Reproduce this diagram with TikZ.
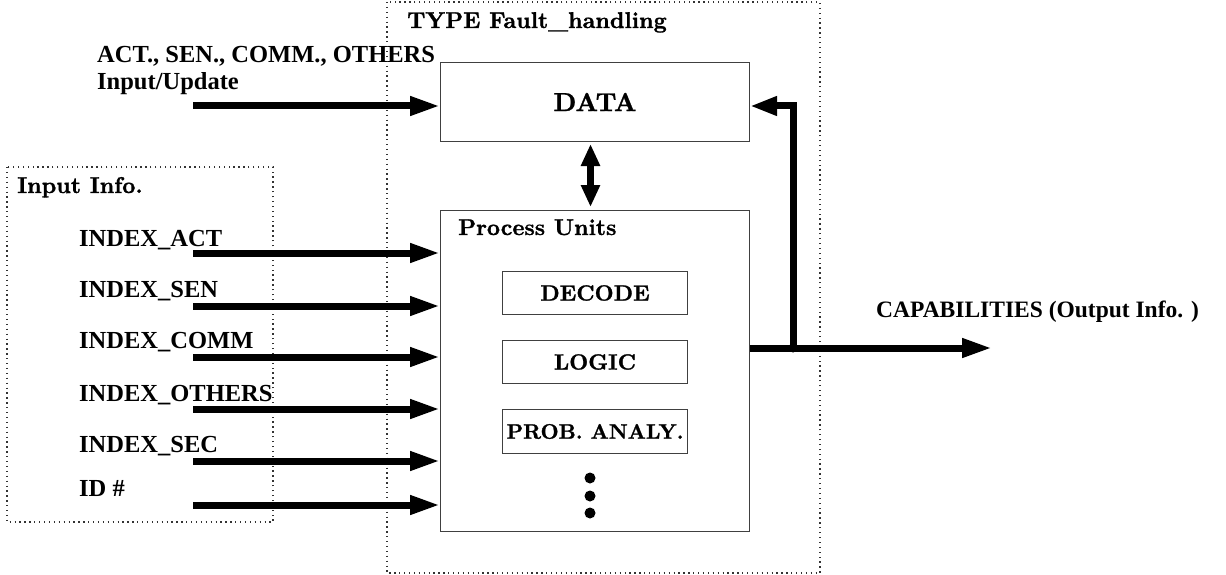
\documentclass[tikz,border=0pt]{standalone}
\usepackage{fontspec}
\setmainfont{Liberation Serif}
\newfontfamily\schfont[Extension=.otf, FakeBold=1.2]{lmroman10-bold}
\usetikzlibrary{arrows.meta}
\tikzset{
  x=1pt, y=-1pt,
  box/.style={draw=black!75, line width=1pt, inner sep=0pt, anchor=north west},
  frame/.style={draw=black!80, line width=1.3pt, dash pattern=on 1.3pt off 3.6pt},
  flow/.style={line width=7pt, -{Triangle[length=30pt,width=18pt]}},
  dbl/.style={line width=7pt, {Triangle[length=22pt,width=18pt]}-{Triangle[length=22pt,width=18pt]}},
  tlabel/.style={anchor=base west, inner sep=0pt, font=\bfseries\fontsize{24.5}{28}\selectfont},
  slabel/.style={anchor=base west, inner sep=0pt, font=\schfont\fontsize{22.8}{26}\selectfont},
  stext/.style={font=\schfont\fontsize{22}{26}\selectfont}
}
\begin{document}
\begin{tikzpicture}
\useasboundingbox (0,0) rectangle (1226,575);

% dotted frames
\draw[frame] (387,2) rectangle (820,573);
\draw[frame] (7,167) rectangle (273,522);

% titles
\node[slabel] (ttl) at (407,28) {TYPE Fault\_handling};
\node[slabel] (inf) at (17,193) {Input Info.};

% main blocks
\node[box, minimum width=309pt, minimum height=79pt, font=\schfont\fontsize{26}{30}\selectfont] (data) at (440,62) {DATA};
\node[box, minimum width=309pt, minimum height=321pt] (proc) at (440,210) {};
\node[slabel] (ptl) at (458,235) {Process Units};
\node[box, minimum width=185pt, minimum height=43pt, stext] (dec) at (502,271) {DECODE};
\node[box, minimum width=185pt, minimum height=43pt, stext] (log) at (502,340) {LOGIC};
\node[box, minimum width=185pt, minimum height=44pt, font=\schfont\fontsize{21}{24}\selectfont] (prob) at (502,409) {PROB. ANALY.};

% continuation dots
\fill (590,478) circle (5.5);
\fill (590,496) circle (5.5);
\fill (590,513) circle (5.5);

% data <-> process units
\draw[dbl] ([xshift=-4.5pt,yshift=-2pt]data.south) -- ([xshift=-4.5pt,yshift=3pt]proc.north);

% update input
\node[tlabel] (l0a) at (97,63) {ACT., SEN., COMM., OTHERS};
\node[tlabel] (l0b) at (97,90) {Input/Update};
\coordinate (s0) at (193,106);
\draw[flow] (s0) -- (data.west |- s0);

% index inputs
\node[tlabel] (l1) at (79,246) {INDEX\_ACT};
\node[tlabel] (l2) at (79,297) {INDEX\_SEN};
\node[tlabel] (l3) at (79,348) {INDEX\_COMM};
\node[tlabel] (l4) at (79,401) {INDEX\_OTHERS};
\node[tlabel] (l5) at (79,452) {INDEX\_SEC};
\node[tlabel] (l6) at (79,496) {ID \#};
\coordinate (s1) at (193,253);
\coordinate (s2) at (193,306);
\coordinate (s3) at (193,357);
\coordinate (s4) at (193,409);
\coordinate (s5) at (193,461);
\coordinate (s6) at (193,505);
\foreach \i in {1,...,6}
  \draw[flow] (s\i) -- (proc.west |- s\i);

% output and feedback
\coordinate (j) at (793,348);
\coordinate (out) at (992,348);
\node[tlabel, font=\bfseries\fontsize{23.5}{28}\selectfont] (cap) at (876,317) {CAPABILITIES (Output Info. )};
\draw[flow] (proc.east |- j) -- (out);
\coordinate (fb) at (793,106);
\draw[line width=7pt, -{Triangle[length=27pt,width=18pt]}] (j) -- (fb) -- (data.east |- fb);
\fill (j) circle (4.5);
\end{tikzpicture}
\end{document}
